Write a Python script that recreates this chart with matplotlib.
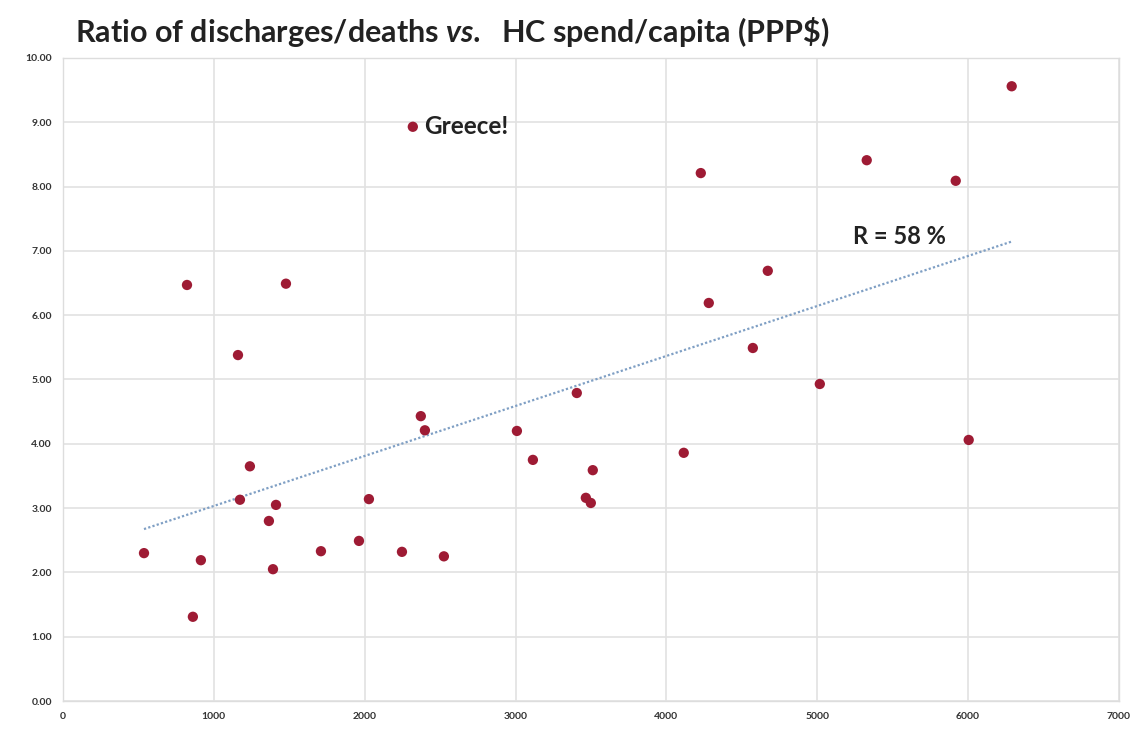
import numpy as np
import matplotlib
matplotlib.use("Agg")
import matplotlib.pyplot as plt

spend = [6289, 2319, 5328, 4228, 5918, 4672, 4281, 822, 1478, 4573, 1160, 5017,
         3406, 2372, 2399, 6004, 3009, 4115, 3115, 3512, 1239, 2028, 1173, 1412,
         3466, 3499, 1365, 1710, 1962, 2247, 2525, 537, 914, 1392, 861]
ratio = [9.56, 8.93, 8.41, 8.21, 8.09, 6.69, 6.19, 6.47, 6.49, 5.49, 5.38, 4.93,
         4.79, 4.43, 4.21, 4.06, 4.20, 3.86, 3.75, 3.59, 3.65, 3.14, 3.13, 3.05,
         3.16, 3.08, 2.80, 2.33, 2.49, 2.32, 2.25, 2.30, 2.19, 2.05, 1.31]
x_ticks = [0, 1000, 2000, 3000, 4000, 5000, 6000, 7000]
y_ticks = [0, 1, 2, 3, 4, 5, 6, 7, 8, 9, 10]
title = "Ratio of discharges/deaths $\\mathbfit{vs.}$  HC spend/capita (PPP\\$)"
greece_idx = 1

plt.rcParams['font.family'] = ['Lato', 'DejaVu Sans']
plt.rcParams['mathtext.fontset'] = 'custom'
plt.rcParams['mathtext.bfit'] = 'Lato:bold:italic'
plt.rcParams['mathtext.rm'] = 'Lato:bold'
plt.rcParams['mathtext.bf'] = 'Lato:bold'

fig = plt.figure(figsize=(11.33, 7.31), dpi=100)
ax = fig.add_axes([0.0556, 0.041, 0.932, 0.8797])

ax.set_xlim(0, 7000)
ax.set_ylim(0, 10)
ax.set_xticks(x_ticks)
ax.set_yticks(y_ticks)
ax.set_xticklabels([str(v) for v in x_ticks], fontsize=7.5, fontweight='bold', color='#333333')
ax.set_yticklabels([f"{v:.2f}" for v in y_ticks], fontsize=7.5, fontweight='bold', color='#333333')
ax.tick_params(length=0, pad=8)
ax.grid(True, color='#e2e2e2', linewidth=1.2)
ax.set_axisbelow(True)
for s in ax.spines.values():
    s.set_color('#dddddd')
    s.set_linewidth(1.0)

x = np.array(spend, dtype=float)
y = np.array(ratio, dtype=float)
k, b = np.polyfit(x, y, 1)
xs = np.array([x.min(), x.max()])
ax.plot(xs, k * xs + b, linestyle=(0, (1, 1)), color='#7f9fc4', linewidth=1.6, zorder=2)

ax.scatter(x, y, s=55, color='#9e1b34', edgecolors='none', zorder=3)

ax.annotate("Greece!", (x[greece_idx], y[greece_idx]), xytext=(8, 0),
            textcoords='offset points', va='center', ha='left',
            fontsize=17.5, fontweight='bold', color='#222222')
ax.text(5240, 7.22, "R = 58 %", fontsize=17, fontweight='bold', color='#222222',
        va='center', ha='left')

fig.text(0.066, 0.956, title, fontsize=22, fontweight='bold', color='#222222',
         va='center', ha='left')

fig.savefig("out.png", dpi=100, facecolor='white')
